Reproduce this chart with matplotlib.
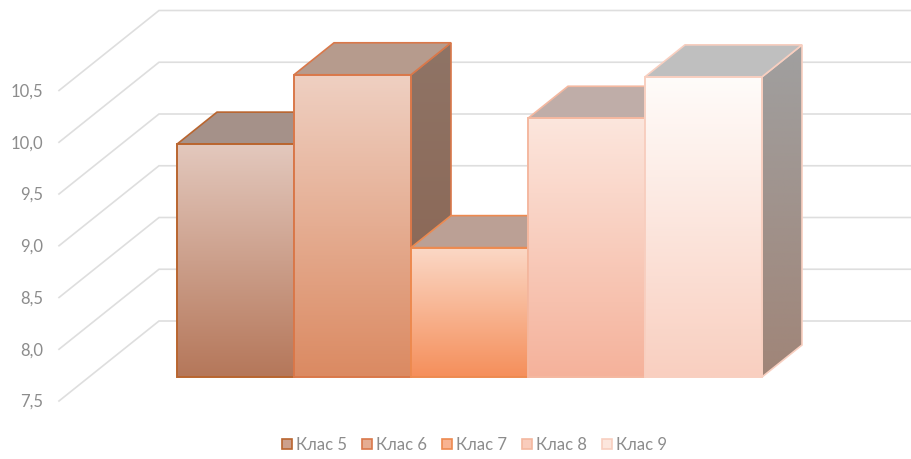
import numpy as np
import matplotlib
matplotlib.use("Agg")
import matplotlib.pyplot as plt
from matplotlib.colors import LinearSegmentedColormap, to_rgb
from matplotlib.patches import Patch, Polygon

# values
classes = ["Клас 5", "Клас 6", "Клас 7", "Клас 8", "Клас 9"]
values = [9.75, 10.42, 8.75, 10.0, 10.4]
ticks = [7.5, 8.0, 8.5, 9.0, 9.5, 10.0, 10.5]
tick_labels = ["7,5", "8,0", "8,5", "9,0", "9,5", "10,0", "10,5"]

# colours per bar
front_top = ["#E3C8BD", "#EFD0C2", "#FBD8C6", "#FCE6DD", "#FFFCFA"]
front_bottom = ["#B5775A", "#DB8A62", "#F58F5B", "#F5B29B", "#F9CFC0"]
edge_col = ["#B9652F", "#D9784A", "#ED8A50", "#F4B8A0", "#F8CFC0"]
top_col = ["#A59189", "#B69B8D", "#BBA095", "#BFADA8", "#BFBFBF"]
side_top = ["#8A7368", "#8F7466", "#958075", "#9C9490", "#A0A0A0"]
side_bottom = ["#7A5340", "#8A6350", "#94705C", "#9C8478", "#A08578"]

px_x = 117.0  # pixels per category
px_y = 103.5  # pixels per value unit
base = 7.5
x0_px = 177
y0_px = 377
W, H = 912, 459

fig = plt.figure(figsize=(W / 100, H / 100), dpi=100)
plt.rcParams["font.family"] = ["Lato", "DejaVu Sans"]
ax = fig.add_axes([0, 0, 1, 1])
ax.set_xlim(-x0_px / px_x, (W - x0_px) / px_x)
ax.set_ylim(base - (H - y0_px) / px_y, base + y0_px / px_y)
ax.set_autoscale_on(False)
ax.axis("off")

# bar depth and wall offsets, in data units
bar_dx = 40 / px_x
bar_dy = 32 / px_y
wall_front = (-118 / px_x, -24 / px_y)
wall_back = (-18 / px_x, 56 / px_y)
text_col = "#8C8C8C"

for t, lab in zip(ticks, tick_labels):
    ax.plot([wall_front[0], wall_back[0], ax.get_xlim()[1]],
            [t + wall_front[1], t + wall_back[1], t + wall_back[1]],
            color="#DEDEDE", lw=1.2, zorder=1, solid_joinstyle="miter")
    ax.text(-134 / px_x, t + wall_front[1] - 1 / px_y, lab, ha="right", va="center",
            fontsize=12, color=text_col)


def gradient_face(corners, c1, c2, extent, z):
    cmap = LinearSegmentedColormap.from_list("g", [c2, c1])
    grad = np.linspace(0, 1, 128).reshape(-1, 1)
    im = ax.imshow(grad, cmap=cmap, extent=extent, origin="lower", aspect="auto",
                   zorder=z, interpolation="bilinear")
    im.set_clip_path(Polygon(corners, closed=True, transform=ax.transData))


for i, v in enumerate(values):
    z = 2 + i
    l, r = i, i + 1
    ec = edge_col[i]
    front = [(l, base), (r, base), (r, v), (l, v)]
    side = [(r, base), (r + bar_dx, base + bar_dy), (r + bar_dx, v + bar_dy), (r, v)]
    top = [(l, v), (r, v), (r + bar_dx, v + bar_dy), (l + bar_dx, v + bar_dy)]
    gradient_face(side, side_top[i], side_bottom[i], (r, r + bar_dx, base, v + bar_dy), z)
    ax.add_patch(Polygon(side, closed=True, fill=False, ec=ec, lw=1.2, zorder=z))
    ax.add_patch(Polygon(top, closed=True, fc=top_col[i], ec=ec, lw=1.2, zorder=z))
    gradient_face(front, front_top[i], front_bottom[i], (l, r, base, v), z)
    ax.add_patch(Polygon(front, closed=True, fill=False, ec=ec, lw=1.4, zorder=z))

handles = []
for i in range(len(classes)):
    mid = tuple((a + b) / 2 for a, b in zip(to_rgb(front_top[i]), to_rgb(front_bottom[i])))
    handles.append(Patch(facecolor=mid, edgecolor=edge_col[i], lw=1.2, label=classes[i]))
leg = ax.legend(handles=handles, ncol=5, loc="center", bbox_to_anchor=(474.5 / W, 1 - 445 / H),
                frameon=False, fontsize=12, handlelength=0.6, handleheight=0.6,
                handletextpad=0.24, columnspacing=0.9, labelcolor=text_col)

fig.savefig("out.png", dpi=100)
